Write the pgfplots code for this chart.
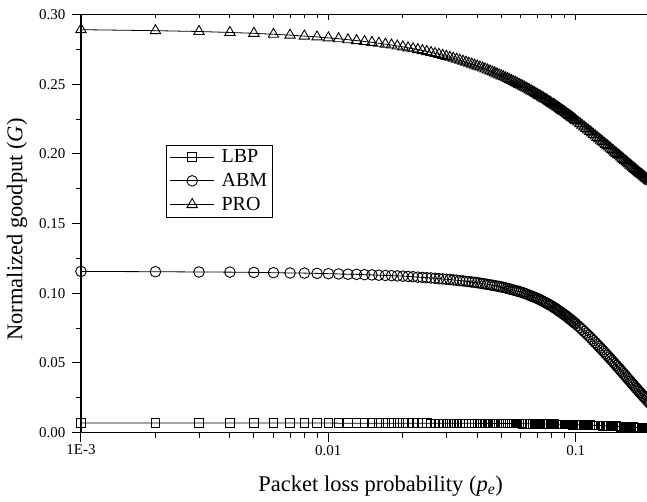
\documentclass[border=0pt]{standalone}
\usepackage{fontspec}
\setmainfont{Liberation Serif}
\usepackage{pgfplots}
\usepackage{pgfplotstable}
\pgfplotsset{compat=1.18}

% goodput
\pgfplotstableread{
p     lbp    abm    pro
0.001 0.0068 0.1156 0.2891
0.002 0.0068 0.1154 0.2884
0.003 0.0068 0.1152 0.2878
0.004 0.0068 0.1151 0.2871
0.005 0.0068 0.1149 0.2865
0.006 0.0068 0.1147 0.2858
0.007 0.0068 0.1145 0.2852
0.008 0.0068 0.1144 0.2845
0.009 0.0068 0.1142 0.2839
0.010 0.0068 0.1140 0.2832
0.011 0.0067 0.1138 0.2826
0.012 0.0067 0.1136 0.2819
0.013 0.0067 0.1135 0.2813
0.014 0.0067 0.1133 0.2806
0.015 0.0067 0.1131 0.2800
0.016 0.0067 0.1129 0.2794
0.017 0.0067 0.1127 0.2787
0.018 0.0067 0.1126 0.2781
0.019 0.0067 0.1124 0.2774
0.020 0.0067 0.1122 0.2768
0.021 0.0067 0.1120 0.2761
0.022 0.0067 0.1118 0.2754
0.023 0.0067 0.1115 0.2748
0.024 0.0067 0.1113 0.2741
0.025 0.0067 0.1111 0.2734
0.026 0.0066 0.1109 0.2727
0.027 0.0066 0.1107 0.2720
0.028 0.0066 0.1104 0.2714
0.029 0.0066 0.1102 0.2707
0.030 0.0066 0.1100 0.2700
0.031 0.0066 0.1098 0.2693
0.032 0.0066 0.1095 0.2686
0.033 0.0066 0.1093 0.2679
0.034 0.0066 0.1090 0.2672
0.035 0.0066 0.1088 0.2665
0.036 0.0066 0.1085 0.2658
0.037 0.0066 0.1083 0.2651
0.038 0.0066 0.1080 0.2644
0.039 0.0066 0.1078 0.2637
0.040 0.0066 0.1075 0.2630
0.041 0.0065 0.1072 0.2623
0.042 0.0065 0.1069 0.2616
0.043 0.0065 0.1066 0.2609
0.044 0.0065 0.1063 0.2602
0.045 0.0065 0.1060 0.2595
0.046 0.0065 0.1057 0.2588
0.047 0.0065 0.1054 0.2581
0.048 0.0065 0.1051 0.2574
0.049 0.0065 0.1048 0.2567
0.050 0.0065 0.1045 0.2560
0.051 0.0064 0.1042 0.2553
0.052 0.0064 0.1038 0.2546
0.053 0.0064 0.1034 0.2540
0.054 0.0064 0.1030 0.2533
0.055 0.0064 0.1027 0.2526
0.056 0.0064 0.1023 0.2519
0.057 0.0064 0.1019 0.2513
0.058 0.0064 0.1015 0.2506
0.059 0.0064 0.1012 0.2499
0.060 0.0064 0.1008 0.2492
0.061 0.0063 0.1004 0.2486
0.062 0.0063 0.0999 0.2479
0.063 0.0063 0.0995 0.2473
0.064 0.0063 0.0990 0.2466
0.065 0.0063 0.0985 0.2459
0.066 0.0063 0.0980 0.2452
0.067 0.0062 0.0976 0.2446
0.068 0.0062 0.0971 0.2439
0.069 0.0062 0.0967 0.2433
0.070 0.0062 0.0962 0.2426
0.071 0.0062 0.0957 0.2420
0.072 0.0062 0.0951 0.2413
0.073 0.0061 0.0946 0.2407
0.074 0.0061 0.0940 0.2400
0.075 0.0061 0.0935 0.2394
0.076 0.0061 0.0929 0.2388
0.077 0.0061 0.0924 0.2382
0.078 0.0061 0.0918 0.2375
0.079 0.0060 0.0913 0.2369
0.080 0.0060 0.0907 0.2362
0.081 0.0060 0.0901 0.2356
0.082 0.0060 0.0895 0.2350
0.083 0.0059 0.0889 0.2344
0.084 0.0059 0.0882 0.2337
0.085 0.0059 0.0876 0.2331
0.086 0.0059 0.0870 0.2325
0.087 0.0059 0.0864 0.2319
0.088 0.0059 0.0857 0.2312
0.089 0.0058 0.0851 0.2306
0.090 0.0058 0.0845 0.2300
0.091 0.0058 0.0839 0.2294
0.092 0.0058 0.0832 0.2288
0.093 0.0057 0.0826 0.2282
0.094 0.0057 0.0819 0.2276
0.095 0.0057 0.0813 0.2270
0.096 0.0057 0.0806 0.2264
0.097 0.0056 0.0800 0.2258
0.098 0.0056 0.0793 0.2252
0.099 0.0056 0.0787 0.2246
0.100 0.0056 0.0780 0.2240
0.102 0.0055 0.0767 0.2229
0.104 0.0055 0.0753 0.2217
0.106 0.0055 0.0740 0.2206
0.108 0.0054 0.0726 0.2194
0.110 0.0054 0.0713 0.2183
0.112 0.0053 0.0699 0.2172
0.114 0.0053 0.0686 0.2161
0.116 0.0052 0.0672 0.2150
0.118 0.0052 0.0659 0.2139
0.120 0.0051 0.0645 0.2128
0.122 0.0051 0.0632 0.2118
0.124 0.0050 0.0619 0.2108
0.126 0.0050 0.0606 0.2098
0.128 0.0049 0.0593 0.2088
0.130 0.0049 0.0580 0.2078
0.132 0.0048 0.0567 0.2068
0.134 0.0048 0.0555 0.2059
0.136 0.0047 0.0542 0.2049
0.138 0.0047 0.0530 0.2040
0.140 0.0046 0.0517 0.2030
0.142 0.0046 0.0505 0.2021
0.144 0.0045 0.0493 0.2012
0.146 0.0045 0.0481 0.2003
0.148 0.0044 0.0469 0.1994
0.150 0.0043 0.0458 0.1986
0.152 0.0042 0.0446 0.1977
0.154 0.0042 0.0435 0.1969
0.156 0.0041 0.0423 0.1960
0.158 0.0041 0.0412 0.1952
0.160 0.0040 0.0400 0.1943
0.162 0.0040 0.0389 0.1935
0.164 0.0039 0.0378 0.1927
0.166 0.0039 0.0368 0.1919
0.168 0.0038 0.0357 0.1911
0.170 0.0038 0.0347 0.1904
0.172 0.0037 0.0336 0.1896
0.174 0.0037 0.0326 0.1889
0.176 0.0036 0.0316 0.1881
0.178 0.0036 0.0306 0.1874
0.180 0.0035 0.0296 0.1866
0.182 0.0035 0.0287 0.1859
0.184 0.0034 0.0278 0.1852
0.186 0.0033 0.0269 0.1846
0.188 0.0032 0.0259 0.1839
0.190 0.0032 0.0251 0.1833
0.192 0.0031 0.0242 0.1826
0.194 0.0031 0.0234 0.1820
0.196 0.0030 0.0225 0.1813
0.198 0.0030 0.0217 0.1807
0.200 0.0029 0.0208 0.1800
}\goodput

\begin{document}
\begin{tikzpicture}
\begin{axis}[
  scale only axis, width=569.2pt, height=418pt,
  xmode=log, xmin=0.001, xmax=0.2, ymin=0, ymax=0.3,
  xtick={0.001,0.01,0.1}, xticklabels={1E-3,0.01,0.1},
  minor xtick={0.002,0.003,0.004,0.005,0.006,0.007,0.008,0.009,0.02,0.03,0.04,0.05,0.06,0.07,0.08,0.09,0.2},
  ytick={0,0.05,0.1,0.15,0.2,0.25,0.3},
  minor ytick={0.025,0.075,0.125,0.175,0.225,0.275},
  scaled y ticks=false,
  yticklabel style={xshift=-3pt, /pgf/number format/.cd,fixed,fixed zerofill,precision=2},
  /pgf/number format/assume math mode=true,
  tick align=outside, xtick pos=bottom, ytick pos=left,
  major tick length=9pt, minor tick length=5pt,
  tick style={black, line width=1pt},
  axis line style={black, line width=1.2pt},
  ticklabel style={font=\fontsize{15}{17}\selectfont},
  label style={font=\fontsize{22.5}{25}\selectfont},
  xlabel style={yshift=-14pt, xshift=15pt},
  ylabel style={yshift=5pt, xshift=-6pt},
  xlabel={Packet loss probability (\textit{p}\textsubscript{\textit{e}})},
  ylabel={Normalized goodput (\textit{G})},
  legend style={at={(0.150,0.689)}, anchor=north west, draw=black, line width=0.8pt,
    font=\fontsize{20}{22}\selectfont, inner sep=3pt, row sep=5pt},
  legend cell align=left,
  legend image code/.code={\draw[mark repeat=2,mark phase=2] plot coordinates {(0pt,0pt) (22pt,0pt) (44pt,0pt)};
    \path (49pt,0pt);},
]
\addplot[black, line width=0.8pt, mark=square, mark size=4.3pt, mark options={line width=0.9pt}]
  table[x=p, y=lbp]{\goodput};
\addlegendentry{LBP}
\addplot[black, line width=0.8pt, mark=o, mark size=5.3pt, mark options={line width=0.9pt}]
  table[x=p, y=abm]{\goodput};
\addlegendentry{ABM}
\addplot[black, line width=0.8pt, mark=triangle, mark size=6pt, mark options={line width=0.9pt}]
  table[x=p, y=pro]{\goodput};
\addlegendentry{PRO}
\end{axis}
% top axis with inward ticks
\begin{axis}[
  scale only axis, width=569.2pt, height=418pt,
  xmode=log, xmin=0.001, xmax=0.2, ymin=0, ymax=0.3,
  axis x line*=top, axis y line=none,
  xtick={0.001,0.01,0.1}, xticklabels={},
  minor xtick={0.002,0.003,0.004,0.005,0.006,0.007,0.008,0.009,0.02,0.03,0.04,0.05,0.06,0.07,0.08,0.09,0.2},
  tick align=inside, major tick length=6pt, minor tick length=4pt,
  tick style={black, line width=1pt},
  axis line style={black, line width=1.2pt},
]
\end{axis}
\pgfresetboundingbox
\path (-81pt,-68.5pt) rectangle (566pt,432.5pt);
\end{tikzpicture}
\end{document}
